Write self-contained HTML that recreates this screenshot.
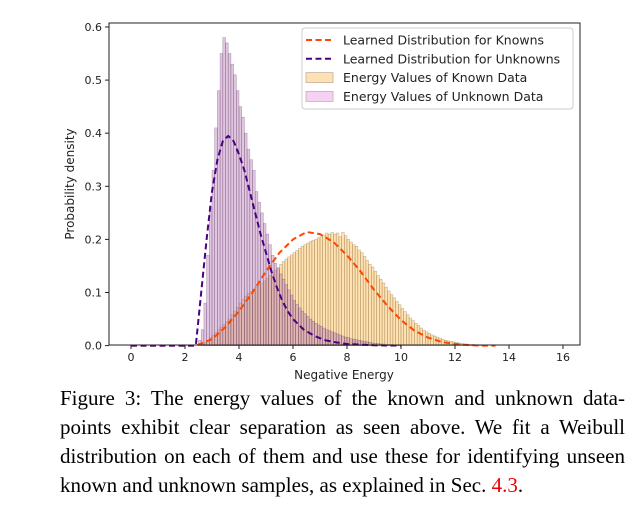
<!DOCTYPE html>
<html><head><meta charset="utf-8"><style>
body{margin:0;background:#fff;width:638px;height:512px;overflow:hidden;position:relative}
svg text{font-family:"DejaVu Sans","Liberation Sans",sans-serif}
.cap{position:absolute;left:60px;width:565px;font-family:"Liberation Serif",serif;font-size:21px;line-height:24px;color:#000;white-space:nowrap}
.j{text-align:justify;text-align-last:justify;white-space:normal}
</style></head><body>
<svg id="chart" width="638" height="390" style="position:absolute;left:0;top:0">
<g id="bars"></g><g id="lines"></g><g id="axes"></g>
</svg>
<div class="cap j" style="top:386px">Figure 3: The energy values of the known and unknown data-</div>
<div class="cap j" style="top:415px">points exhibit clear separation as seen above. We fit a Weibull</div>
<div class="cap j" style="top:444px">distribution on each of them and use these for identifying unseen</div>
<div class="cap" style="top:473px">known and unknown samples, as explained in Sec. <span style="color:#e00">4.3</span>.</div>
<script>
const knownStart = 2.6;
const knownVals = [0.003,0.006,0.01,0.015,
0.02,0.025,0.03,0.035,0.04,0.045,0.05,0.058,0.065,0.072,
0.08,0.087,0.093,0.098,0.102,0.106,0.11,0.114,0.118,0.122,
0.127,0.132,0.137,0.142,0.147,0.153,0.158,0.163,0.167,0.171,
0.175,0.179,0.183,0.187,0.19,0.193,0.196,0.198,0.2,0.203,
0.205,0.208,0.212,0.21,0.213,0.21,0.212,0.205,0.213,0.207,
0.2,0.195,0.19,0.187,0.18,0.175,0.168,0.16,0.153,0.148,
0.14,0.132,0.125,0.118,0.11,0.103,0.096,0.09,0.083,0.077,
0.07,0.064,0.058,0.052,0.047,0.042,0.038,0.033,0.029,0.026,
0.023,0.02,0.018,0.016,0.014,0.012,0.01,0.009,0.008,0.007,
0.006,0.005,0.004,0.003,0.003,0.002,0.002,0.001,0.001,0.001];
const unknownStart = 2.5;
const unknownVals = [0.01,0.03,0.08,0.17,0.26,
0.33,0.41,0.48,0.55,0.58,0.57,0.55,0.53,0.51,0.48,
0.45,0.43,0.40,0.37,0.35,0.33,0.29,0.27,0.25,0.23,
0.21,0.19,0.17,0.155,0.145,0.135,0.125,0.115,0.105,0.095,
0.085,0.078,0.071,0.065,0.06,0.055,0.05,0.046,0.042,0.039,
0.036,0.033,0.03,0.028,0.026,0.024,0.022,0.02,0.018,0.016,
0.015,0.013,0.012,0.011,0.01,0.009,0.008,0.007,0.006,0.005,
0.004,0.004,0.003,0.003,0.002,0.002,0.002,0.001,0.001,0.001];
const binWidth = 0.1;
const unkCurveX = [0,2.4,2.6,2.8,3.0,3.2,3.4,3.6,3.8,4.0,4.2,4.4,4.6,4.8,5.0,5.2,5.4,5.6,5.8,6.0,6.4,6.8,7.2,7.6,8,9,10];
const unkCurveY = [0,0,0.1,0.2,0.29,0.35,0.385,0.395,0.385,0.36,0.33,0.29,0.25,0.21,0.175,0.14,0.11,0.085,0.065,0.05,0.03,0.018,0.01,0.006,0.003,0.0005,0];
const knCurveX = [0,2.4,3,3.5,4,4.5,5,5.5,6,6.5,7,7.5,8,8.5,9,9.5,10,10.5,11,11.5,12,12.5,13,13.5];
const knCurveY = [0,0,0.012,0.035,0.065,0.1,0.14,0.175,0.2,0.214,0.21,0.195,0.17,0.14,0.105,0.075,0.048,0.028,0.015,0.007,0.003,0.001,0,0];
const xTicks = [0,2,4,6,8,10,12,14,16];
const yTicks = [0.0,0.1,0.2,0.3,0.4,0.5,0.6];

const L=109,R=580,T=23,B=345;
const X=v=>131+v*27;
const Y=v=>345.6-v*531;
const NS="http://www.w3.org/2000/svg";
function mk(tag,attrs,parent){const e=document.createElementNS(NS,tag);for(const k in attrs)e.setAttribute(k,attrs[k]);parent.appendChild(e);return e;}
const bars=document.getElementById('bars'),lines=document.getElementById('lines'),axes=document.getElementById('axes');
knownVals.forEach((v,i)=>{const x0=X(knownStart+i*binWidth),x1=X(knownStart+(i+1)*binWidth);
 const r=mk('rect',{x:x0,y:Y(v),width:x1-x0,height:Y(0)-Y(v),fill:'rgba(255,190,80,0.45)',stroke:'rgba(120,90,50,0.4)','stroke-width':0.6},bars);
 
 });
unknownVals.forEach((v,i)=>{const x0=X(unknownStart+i*binWidth),x1=X(unknownStart+(i+1)*binWidth);
 const r=mk('rect',{x:x0,y:Y(v),width:x1-x0,height:Y(0)-Y(v),fill:'rgba(180,120,180,0.42)',stroke:'rgba(90,50,90,0.4)','stroke-width':0.6},bars);
 
 });
function curve(xs,ys,color,name){const d=xs.map((x,i)=>(i?'L':'M')+X(x).toFixed(1)+','+Y(ys[i]).toFixed(1)).join(' ');
 const p=mk('path',{d:d,fill:'none',stroke:color,'stroke-width':2,'stroke-dasharray':'6,3.5','stroke-linejoin':'round'},lines);
 
 }
curve(knCurveX,knCurveY,'#ff4500','known-curve');
curve(unkCurveX,unkCurveY,'#4b0082','unknown-curve');
const frame=mk('rect',{x:L,y:T,width:R-L,height:B-T,fill:'none',stroke:'#222','stroke-width':1},axes);


xTicks.forEach(t=>{mk('line',{x1:X(t),x2:X(t),y1:B,y2:B+4,stroke:'#222'},axes);
 const tx=mk('text',{x:X(t),y:B+16,'font-size':11,'text-anchor':'middle',fill:'#222'},axes);tx.textContent=t;
 
 });
yTicks.forEach(t=>{mk('line',{x1:L-4,x2:L,y1:Y(t),y2:Y(t),stroke:'#222'},axes);
 const tx=mk('text',{x:L-7,y:Y(t)+4,'font-size':11,'text-anchor':'end',fill:'#222'},axes);tx.textContent=t.toFixed(1);
 
 });
const xl=mk('text',{x:344,y:379,'font-size':12,'text-anchor':'middle',fill:'#222'},axes);xl.textContent='Negative Energy';


const yl=mk('text',{x:0,y:0,'font-size':12,'text-anchor':'middle',fill:'#222',transform:'translate(74,184) rotate(-90)'},axes);yl.textContent='Probability density';


const lg=mk('g',{},axes);


mk('rect',{x:302,y:28,width:271,height:81,rx:3,fill:'rgba(255,255,255,0.85)',stroke:'#ccc'},lg);
const items=[['line','#ff4500','Learned Distribution for Knowns'],['line','#4b0082','Learned Distribution for Unknowns'],['patch','#ffe0b0','Energy Values of Known Data'],['patch','#f5d2f5','Energy Values of Unknown Data']];
items.forEach((it,i)=>{const cy=40+i*18.8;
 if(it[0]=='line')mk('line',{x1:306,x2:333,y1:cy,y2:cy,stroke:it[1],'stroke-width':2,'stroke-dasharray':'6,3.5'},lg);
 else mk('rect',{x:306,y:cy-5,width:27,height:10,fill:it[1],stroke:'#c8b0a0','stroke-width':0.8},lg);
 const tx=mk('text',{x:343,y:cy+4.5,'font-size':12.5,fill:'#222'},lg);tx.textContent=it[2];
 
 });
</script>
</body></html>
